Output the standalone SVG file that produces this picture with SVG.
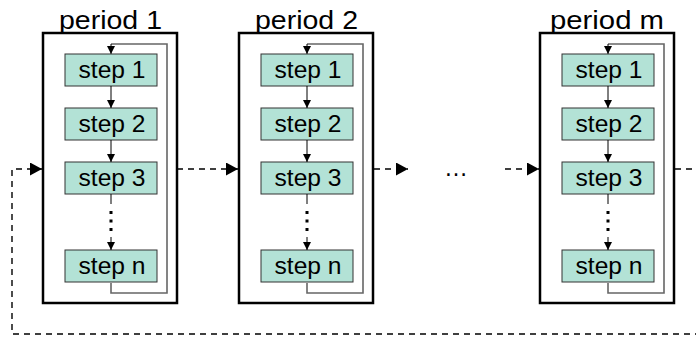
<svg xmlns="http://www.w3.org/2000/svg" width="696" height="340" viewBox="0 0 696 340">
<defs>
<style>
.frame{fill:#fff;stroke:#000;stroke-width:2.5}
.step{fill:#b3e2d6;stroke:#333;stroke-width:1}
.lbl{font-family:"Liberation Sans",Arial,sans-serif;font-size:24px;fill:#000;text-anchor:middle}
.plbl{font-family:"Liberation Sans",Arial,sans-serif;font-size:26px;fill:#000;text-anchor:middle}
.flow{fill:none;stroke:#000;stroke-width:1}
.loop{fill:none;stroke:#666;stroke-width:1.6}
.dash{fill:none;stroke:#000;stroke-width:1.4;stroke-dasharray:6 5}
.dot{fill:none;stroke:#000;stroke-width:3;stroke-dasharray:3 5.5}
</style>
<marker id="sa" markerUnits="userSpaceOnUse" markerWidth="9" markerHeight="9" refX="8" refY="4" orient="auto">
<path d="M0,0 L8,4 L0,8 z" fill="#000"/>
</marker>
<marker id="ba" markerUnits="userSpaceOnUse" markerWidth="13" markerHeight="14" refX="12" refY="6.5" orient="auto">
<path d="M0,0 L12,6.5 L0,13 z" fill="#000"/>
</marker>
<g id="periodTpl">
<rect class="frame" x="0" y="33" width="134" height="270"/>
<path class="loop" d="M68,283 V293 H124 V44 H68"/>
<path class="flow" d="M68,44 V54" marker-end="url(#sa)"/>
<rect class="step" x="22" y="54" width="92" height="32"/>
<rect class="step" x="22" y="108" width="92" height="32"/>
<rect class="step" x="22" y="162" width="92" height="32"/>
<rect class="step" x="22" y="250" width="92" height="32"/>
<path class="flow" d="M68,86 V108" marker-end="url(#sa)"/>
<path class="flow" d="M68,140 V162" marker-end="url(#sa)"/>
<path class="flow" d="M68,194 V204"/>
<path class="dot" d="M68,211 V234"/>
<path class="flow" d="M68,237 V250" marker-end="url(#sa)"/>
<text class="lbl" x="69" y="78" textLength="67" lengthAdjust="spacingAndGlyphs">step 1</text>
<text class="lbl" x="69" y="132" textLength="67" lengthAdjust="spacingAndGlyphs">step 2</text>
<text class="lbl" x="69" y="186" textLength="67" lengthAdjust="spacingAndGlyphs">step 3</text>
<text class="lbl" x="69" y="274" textLength="67" lengthAdjust="spacingAndGlyphs">step n</text>
</g>
</defs>
<g id="connectors">
<path class="dash" d="M177,169 H238" marker-end="url(#ba)"/>
<path class="dash" d="M374,169 H408" marker-end="url(#ba)"/>
<path class="dash" d="M505,169 H539" marker-end="url(#ba)"/>
<path class="dash" d="M675,169 H710 V334 H12 V169 H42" marker-end="url(#ba)"/>
</g>
<g id="period1">
<use href="#periodTpl" transform="translate(43,0)"/>
<text class="plbl" x="110.5" y="28.5" textLength="103" lengthAdjust="spacingAndGlyphs">period 1</text>
</g>
<g id="period2">
<use href="#periodTpl" transform="translate(239,0)"/>
<text class="plbl" x="306.5" y="28.5" textLength="103" lengthAdjust="spacingAndGlyphs">period 2</text>
</g>
<g id="ellipsis">
<text class="plbl" x="456" y="176" textLength="24" lengthAdjust="spacingAndGlyphs">…</text>
</g>
<g id="periodm">
<use href="#periodTpl" transform="translate(540,0)"/>
<text class="plbl" x="607" y="28.5" textLength="114" lengthAdjust="spacingAndGlyphs">period m</text>
</g>
</svg>
